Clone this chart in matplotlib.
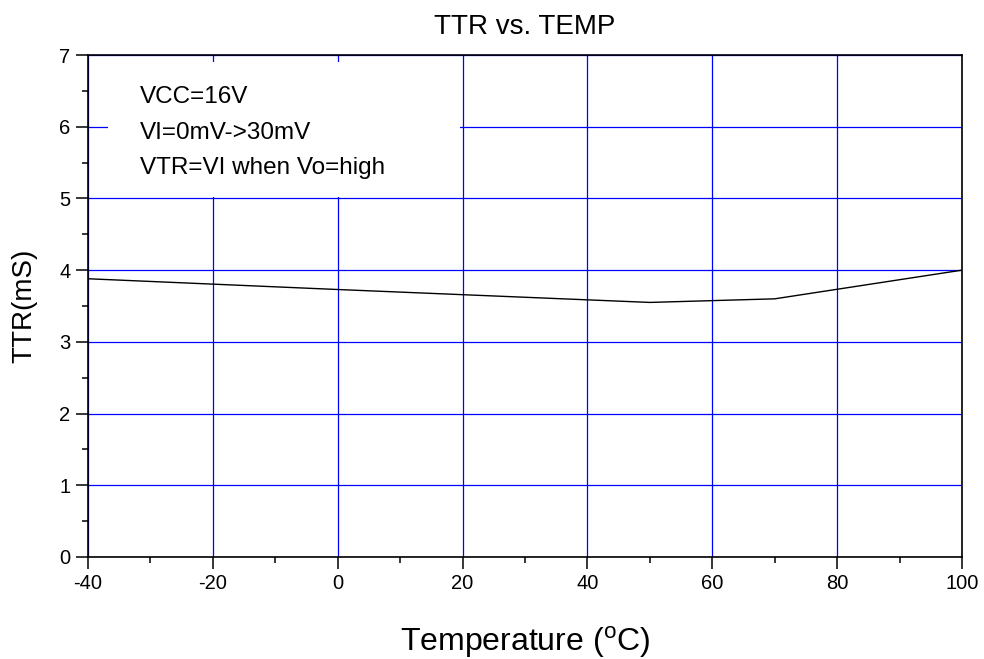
import matplotlib.pyplot as plt
from matplotlib.patches import Rectangle
from matplotlib.ticker import MultipleLocator

plt.rcParams['font.family'] = ['Liberation Sans', 'DejaVu Sans']
plt.rcParams['mathtext.fontset'] = 'custom'
plt.rcParams['mathtext.rm'] = 'Liberation Sans'
plt.rcParams['axes.unicode_minus'] = False

temp = [-40, 0, 25, 50, 70, 100]
ttr = [3.88, 3.73, 3.64, 3.55, 3.60, 4.00]
notes = ["VCC=16V", "VI=0mV->30mV", "VTR=VI when Vo=high"]

fig = plt.figure(figsize=(9.84, 6.59), dpi=100)
ax = fig.add_axes([0.0894, 0.1548, 0.8882, 0.7617])

ax.plot(temp, ttr, color='k', lw=1, zorder=3)

ax.set_xlim(-40, 100)
ax.set_ylim(0, 7)
ax.xaxis.set_major_locator(MultipleLocator(20))
ax.xaxis.set_minor_locator(MultipleLocator(10))
ax.yaxis.set_major_locator(MultipleLocator(1))
ax.yaxis.set_minor_locator(MultipleLocator(0.5))
ax.tick_params(which='major', direction='out', length=8.5, width=1.1, labelsize=14.5, pad=4)
ax.tick_params(which='minor', direction='out', length=4.5, width=1.1)
for s in ax.spines.values():
    s.set_linewidth(1.2)

ax.grid(True, which='major', color='#0000ff', lw=0.9)
ax.set_axisbelow(True)

# white box behind the notes hides the grid there
ax.add_patch(Rectangle((0.023, 0.717), 0.403, 0.269, transform=ax.transAxes,
                       facecolor='white', edgecolor='none', zorder=1.5))
ys = [0.904, 0.832, 0.763]
for t, y in zip(notes, ys):
    ax.text(0.0595, y, t, transform=ax.transAxes, fontsize=17.5, va='baseline', zorder=4)

ax.set_title("TTR vs. TEMP", fontsize=20, pad=15)
ax.set_ylabel("TTR(mS)", fontsize=20, labelpad=16)
ax.set_xlabel(r"Temperature ($^{\rm o}$C)", fontsize=23, labelpad=22)

fig.savefig("out.png", dpi=100)
